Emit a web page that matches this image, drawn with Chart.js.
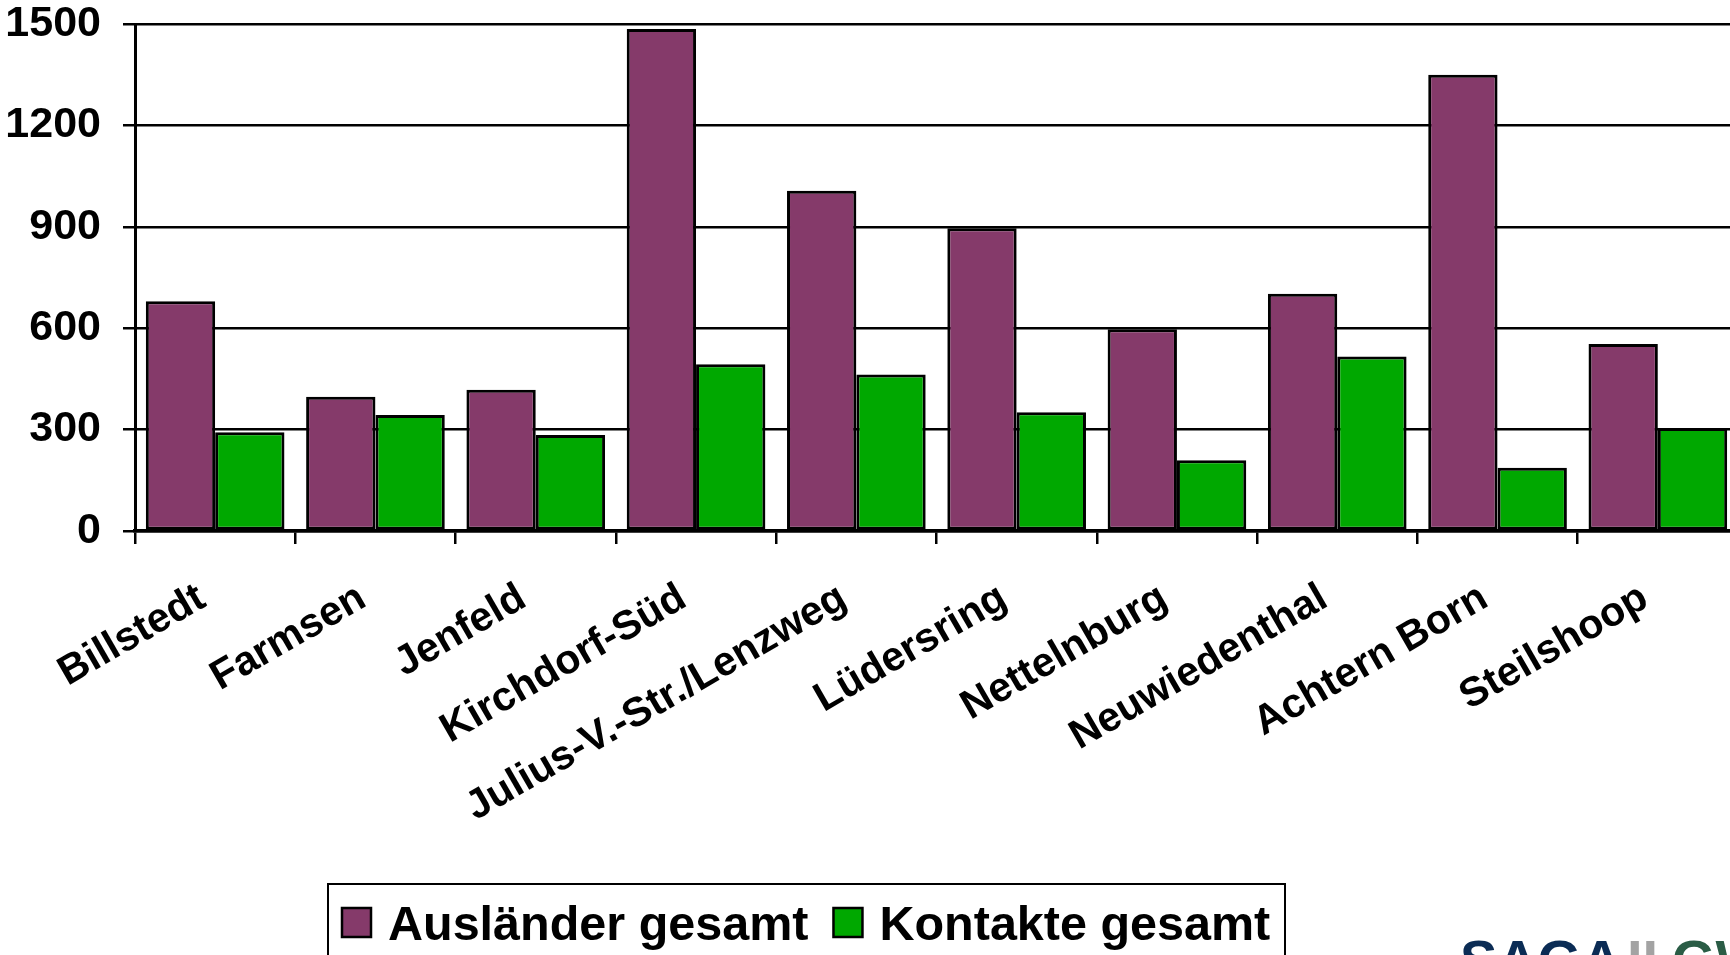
<!DOCTYPE html>
<html>
<head>
<meta charset="utf-8">
<script src="https://cdn.jsdelivr.net/npm/chart.js@4/dist/chart.umd.min.js"></script>
<style>
  html, body { margin: 0; padding: 0; background: #fff; overflow: hidden; }
  #wrap { position: relative; width: 1750px; height: 955px; }
</style>
</head>
<body>
<div id="wrap"><canvas id="c"></canvas></div>
<script>
const categories = ["Billstedt", "Farmsen", "Jenfeld", "Kirchdorf-Süd", "Julius-V.-Str./Lenzweg",
                    "Lüdersring", "Nettelnburg", "Neuwiedenthal", "Achtern Born", "Steilshoop"];
const auslaenderGesamt = [680, 397, 418, 1485, 1007, 896, 597, 702, 1350, 553];
const kontakteGesamt   = [292, 343, 284, 493, 463, 351, 209, 516, 187, 305];
const yTicks = [0, 300, 600, 900, 1200, 1500];
const seriesNames = ["Ausländer gesamt", "Kontakte gesamt"];
const logoParts = ["SAGA", "II", "GWG"];

const FONT = "'Liberation Sans', Arial, sans-serif";

const boxLegend = {
  id: 'boxLegend',
  afterDraw(chart) {
    const ctx = chart.ctx;
    ctx.save();
    ctx.lineWidth = 2;
    ctx.strokeStyle = '#000';
    ctx.strokeRect(328, 884, 957, 120);
    ctx.font = "bold 48.5px " + FONT;
    ctx.textBaseline = 'alphabetic';
    ctx.textAlign = 'left';
    let x = 342;
    chart.data.datasets.forEach((ds) => {
      ctx.fillStyle = ds.backgroundColor;
      ctx.fillRect(x, 908, 29, 29);
      ctx.lineWidth = 2.5;
      ctx.strokeStyle = '#000';
      ctx.strokeRect(x, 908, 29, 29);
      x += 46;
      ctx.fillStyle = '#000';
      ctx.fillText(ds.label, x, 940);
      x += ctx.measureText(ds.label).width + 25;
    });
    // logo (cut off at the bottom edge)
    ctx.font = "bold 56px " + FONT;
    const logoColors = ['#0B2C55', '#A3A3A3', '#2A5C45'];
    const logoX = [1460, 1627, 1672];
    logoParts.forEach((t, i) => {
      ctx.fillStyle = logoColors[i];
      ctx.fillText(t, logoX[i], 979);
    });
    ctx.restore();
  }
};

new Chart(document.getElementById('c'), {
  type: 'bar',
  data: {
    labels: categories,
    datasets: [
      { label: seriesNames[0], data: auslaenderGesamt, backgroundColor: '#853A6A',
        borderColor: '#000', borderWidth: 3, borderSkipped: false },
      { label: seriesNames[1], data: kontakteGesamt, backgroundColor: '#00A800',
        borderColor: '#000', borderWidth: 3, borderSkipped: false }
    ]
  },
  options: {
    responsive: true,
    maintainAspectRatio: false,
    animation: false,
    devicePixelRatio: 1,
    layout: { padding: { top: 24, right: 12, bottom: 0, left: 0 } },
    datasets: { bar: { categoryPercentage: 0.865, barPercentage: 1.0 } },
    plugins: { legend: { display: false }, tooltip: { enabled: false } },
    scales: {
      x: {
        offset: true,
        grid: { display: true, drawOnChartArea: false, drawTicks: true, tickLength: 13,
                color: '#000', lineWidth: 2.5, offset: true },
        border: { display: true, color: '#000', width: 3.5 },
        ticks: {
          color: '#000', autoSkip: false, minRotation: 30, maxRotation: 30,
          padding: 30, labelOffset: -13,
          font: { family: FONT, size: 41, weight: 'bold', lineHeight: 1.2 }
        },
        afterFit(scale) { scale.height = 424; }
      },
      y: {
        min: 0, max: 1500,
        afterBuildTicks(scale) { scale.ticks = yTicks.map(v => ({ value: v })); },
        grid: { color: '#000', lineWidth: 2.5, drawTicks: true, tickLength: 12 },
        border: { display: true, color: '#000', width: 3 },
        ticks: {
          color: '#000', padding: 22,
          callback: (v) => String(v),
          font: { family: FONT, size: 43, weight: 'bold', lineHeight: 1.0 }
        },
        afterFit(scale) {
          scale.width = 135;
          scale.paddingTop = 0;
          scale.paddingBottom = 0;
        }
      }
    }
  },
  plugins: [boxLegend]
});
</script>
</body>
</html>
